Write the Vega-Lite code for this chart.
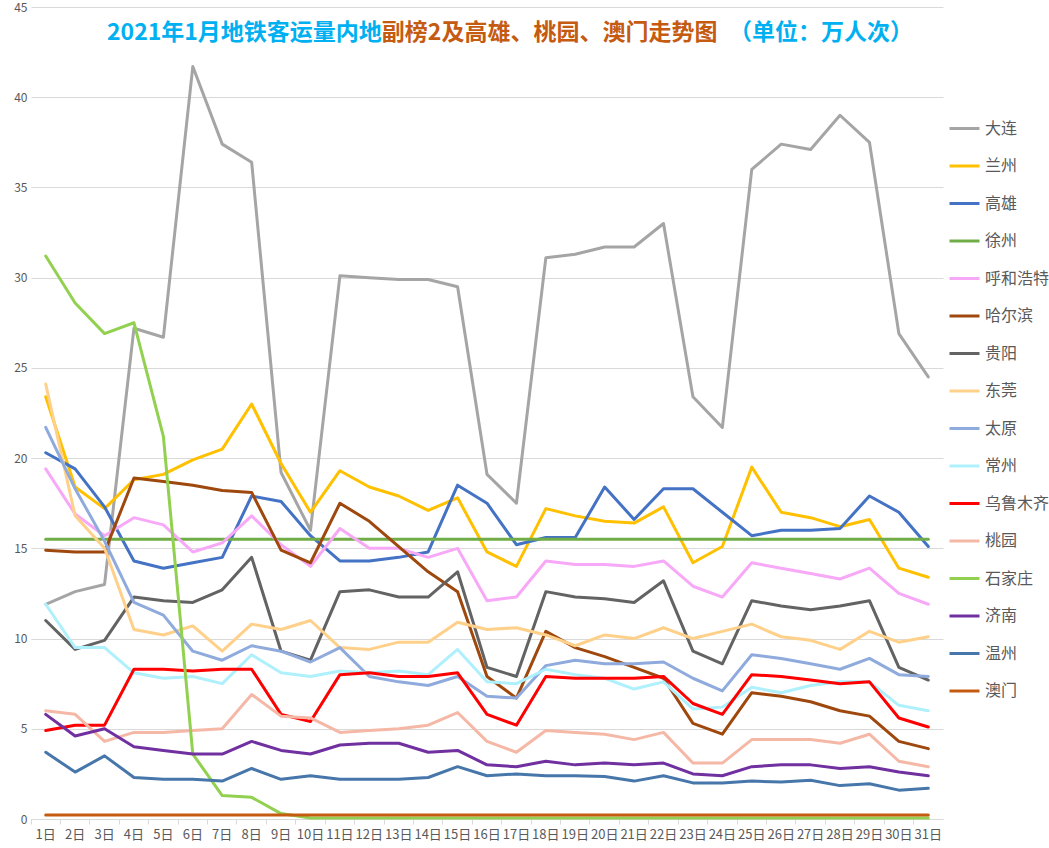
{
"$schema": "https://vega.github.io/schema/vega-lite/v6.json",
"width": 912, "height": 812,
"autosize": {"type": "none"},
"padding": {"left": 31, "top": 7, "right": 106, "bottom": 29},
"background": "white",
"config": {"view": {"stroke": null}, "font": "Noto Sans CJK SC"},
"title": {
  "text": "2021年1月地铁客运量内地\u3000\u3000\u2007\u3000\u3000\u3000\u3000\u3000\u3000\u3000\u3000\u3000\u3000\u3000\u3000\u2002（单位：万人次）",
  "subtitle": "\u200B\u2007\u2007\u2007\u2007\u3000\u2007\u3000\u3000\u3000\u3000\u3000\u3000\u3000\u3000副榜2及高雄、桃园、澳门走势图",
  "anchor": "start", "frame": "group", "dx": 76, "offset": -44,
  "font": "Noto Sans CJK SC", "subtitleFont": "Noto Sans CJK SC",
  "fontSize": 23, "subtitleFontSize": 23,
  "fontWeight": "bold", "subtitleFontWeight": "bold",
  "color": "#00B0F0", "subtitleColor": "#C55A11",
  "subtitlePadding": -23
},
"datasets": {"t": [
{"c":"大连","d":1,"v":11.9},{"c":"大连","d":2,"v":12.6},{"c":"大连","d":3,"v":13.0},{"c":"大连","d":4,"v":27.2},{"c":"大连","d":5,"v":26.7},{"c":"大连","d":6,"v":41.7},{"c":"大连","d":7,"v":37.4},{"c":"大连","d":8,"v":36.4},{"c":"大连","d":9,"v":19.2},{"c":"大连","d":10,"v":16.0},{"c":"大连","d":11,"v":30.1},{"c":"大连","d":12,"v":30.0},{"c":"大连","d":13,"v":29.9},{"c":"大连","d":14,"v":29.9},{"c":"大连","d":15,"v":29.5},{"c":"大连","d":16,"v":19.1},{"c":"大连","d":17,"v":17.5},{"c":"大连","d":18,"v":31.1},{"c":"大连","d":19,"v":31.3},{"c":"大连","d":20,"v":31.7},{"c":"大连","d":21,"v":31.7},{"c":"大连","d":22,"v":33.0},{"c":"大连","d":23,"v":23.4},{"c":"大连","d":24,"v":21.7},{"c":"大连","d":25,"v":36.0},{"c":"大连","d":26,"v":37.4},{"c":"大连","d":27,"v":37.1},{"c":"大连","d":28,"v":39.0},{"c":"大连","d":29,"v":37.5},{"c":"大连","d":30,"v":26.9},{"c":"大连","d":31,"v":24.5},
{"c":"兰州","d":1,"v":23.4},{"c":"兰州","d":2,"v":18.4},{"c":"兰州","d":3,"v":17.2},{"c":"兰州","d":4,"v":18.8},{"c":"兰州","d":5,"v":19.1},{"c":"兰州","d":6,"v":19.9},{"c":"兰州","d":7,"v":20.5},{"c":"兰州","d":8,"v":23.0},{"c":"兰州","d":9,"v":19.7},{"c":"兰州","d":10,"v":17.0},{"c":"兰州","d":11,"v":19.3},{"c":"兰州","d":12,"v":18.4},{"c":"兰州","d":13,"v":17.9},{"c":"兰州","d":14,"v":17.1},{"c":"兰州","d":15,"v":17.8},{"c":"兰州","d":16,"v":14.8},{"c":"兰州","d":17,"v":14.0},{"c":"兰州","d":18,"v":17.2},{"c":"兰州","d":19,"v":16.8},{"c":"兰州","d":20,"v":16.5},{"c":"兰州","d":21,"v":16.4},{"c":"兰州","d":22,"v":17.3},{"c":"兰州","d":23,"v":14.2},{"c":"兰州","d":24,"v":15.1},{"c":"兰州","d":25,"v":19.5},{"c":"兰州","d":26,"v":17.0},{"c":"兰州","d":27,"v":16.7},{"c":"兰州","d":28,"v":16.2},{"c":"兰州","d":29,"v":16.6},{"c":"兰州","d":30,"v":13.9},{"c":"兰州","d":31,"v":13.4},
{"c":"高雄","d":1,"v":20.3},{"c":"高雄","d":2,"v":19.4},{"c":"高雄","d":3,"v":17.3},{"c":"高雄","d":4,"v":14.3},{"c":"高雄","d":5,"v":13.9},{"c":"高雄","d":6,"v":14.2},{"c":"高雄","d":7,"v":14.5},{"c":"高雄","d":8,"v":17.9},{"c":"高雄","d":9,"v":17.6},{"c":"高雄","d":10,"v":15.7},{"c":"高雄","d":11,"v":14.3},{"c":"高雄","d":12,"v":14.3},{"c":"高雄","d":13,"v":14.5},{"c":"高雄","d":14,"v":14.8},{"c":"高雄","d":15,"v":18.5},{"c":"高雄","d":16,"v":17.5},{"c":"高雄","d":17,"v":15.2},{"c":"高雄","d":18,"v":15.6},{"c":"高雄","d":19,"v":15.6},{"c":"高雄","d":20,"v":18.4},{"c":"高雄","d":21,"v":16.6},{"c":"高雄","d":22,"v":18.3},{"c":"高雄","d":23,"v":18.3},{"c":"高雄","d":24,"v":17.0},{"c":"高雄","d":25,"v":15.7},{"c":"高雄","d":26,"v":16.0},{"c":"高雄","d":27,"v":16.0},{"c":"高雄","d":28,"v":16.1},{"c":"高雄","d":29,"v":17.9},{"c":"高雄","d":30,"v":17.0},{"c":"高雄","d":31,"v":15.1},
{"c":"徐州","d":1,"v":15.5},{"c":"徐州","d":2,"v":15.5},{"c":"徐州","d":3,"v":15.5},{"c":"徐州","d":4,"v":15.5},{"c":"徐州","d":5,"v":15.5},{"c":"徐州","d":6,"v":15.5},{"c":"徐州","d":7,"v":15.5},{"c":"徐州","d":8,"v":15.5},{"c":"徐州","d":9,"v":15.5},{"c":"徐州","d":10,"v":15.5},{"c":"徐州","d":11,"v":15.5},{"c":"徐州","d":12,"v":15.5},{"c":"徐州","d":13,"v":15.5},{"c":"徐州","d":14,"v":15.5},{"c":"徐州","d":15,"v":15.5},{"c":"徐州","d":16,"v":15.5},{"c":"徐州","d":17,"v":15.5},{"c":"徐州","d":18,"v":15.5},{"c":"徐州","d":19,"v":15.5},{"c":"徐州","d":20,"v":15.5},{"c":"徐州","d":21,"v":15.5},{"c":"徐州","d":22,"v":15.5},{"c":"徐州","d":23,"v":15.5},{"c":"徐州","d":24,"v":15.5},{"c":"徐州","d":25,"v":15.5},{"c":"徐州","d":26,"v":15.5},{"c":"徐州","d":27,"v":15.5},{"c":"徐州","d":28,"v":15.5},{"c":"徐州","d":29,"v":15.5},{"c":"徐州","d":30,"v":15.5},{"c":"徐州","d":31,"v":15.5},
{"c":"呼和浩特","d":1,"v":19.4},{"c":"呼和浩特","d":2,"v":16.9},{"c":"呼和浩特","d":3,"v":15.7},{"c":"呼和浩特","d":4,"v":16.7},{"c":"呼和浩特","d":5,"v":16.3},{"c":"呼和浩特","d":6,"v":14.8},{"c":"呼和浩特","d":7,"v":15.3},{"c":"呼和浩特","d":8,"v":16.8},{"c":"呼和浩特","d":9,"v":15.2},{"c":"呼和浩特","d":10,"v":14.0},{"c":"呼和浩特","d":11,"v":16.1},{"c":"呼和浩特","d":12,"v":15.0},{"c":"呼和浩特","d":13,"v":15.0},{"c":"呼和浩特","d":14,"v":14.5},{"c":"呼和浩特","d":15,"v":15.0},{"c":"呼和浩特","d":16,"v":12.1},{"c":"呼和浩特","d":17,"v":12.3},{"c":"呼和浩特","d":18,"v":14.3},{"c":"呼和浩特","d":19,"v":14.1},{"c":"呼和浩特","d":20,"v":14.1},{"c":"呼和浩特","d":21,"v":14.0},{"c":"呼和浩特","d":22,"v":14.3},{"c":"呼和浩特","d":23,"v":12.9},{"c":"呼和浩特","d":24,"v":12.3},{"c":"呼和浩特","d":25,"v":14.2},{"c":"呼和浩特","d":26,"v":13.9},{"c":"呼和浩特","d":27,"v":13.6},{"c":"呼和浩特","d":28,"v":13.3},{"c":"呼和浩特","d":29,"v":13.9},{"c":"呼和浩特","d":30,"v":12.5},{"c":"呼和浩特","d":31,"v":11.9},
{"c":"哈尔滨","d":1,"v":14.9},{"c":"哈尔滨","d":2,"v":14.8},{"c":"哈尔滨","d":3,"v":14.8},{"c":"哈尔滨","d":4,"v":18.9},{"c":"哈尔滨","d":5,"v":18.7},{"c":"哈尔滨","d":6,"v":18.5},{"c":"哈尔滨","d":7,"v":18.2},{"c":"哈尔滨","d":8,"v":18.1},{"c":"哈尔滨","d":9,"v":14.9},{"c":"哈尔滨","d":10,"v":14.2},{"c":"哈尔滨","d":11,"v":17.5},{"c":"哈尔滨","d":12,"v":16.5},{"c":"哈尔滨","d":13,"v":15.1},{"c":"哈尔滨","d":14,"v":13.7},{"c":"哈尔滨","d":15,"v":12.6},{"c":"哈尔滨","d":16,"v":7.9},{"c":"哈尔滨","d":17,"v":6.7},{"c":"哈尔滨","d":18,"v":10.4},{"c":"哈尔滨","d":19,"v":9.5},{"c":"哈尔滨","d":20,"v":9.0},{"c":"哈尔滨","d":21,"v":8.4},{"c":"哈尔滨","d":22,"v":7.8},{"c":"哈尔滨","d":23,"v":5.3},{"c":"哈尔滨","d":24,"v":4.7},{"c":"哈尔滨","d":25,"v":7.0},{"c":"哈尔滨","d":26,"v":6.8},{"c":"哈尔滨","d":27,"v":6.5},{"c":"哈尔滨","d":28,"v":6.0},{"c":"哈尔滨","d":29,"v":5.7},{"c":"哈尔滨","d":30,"v":4.3},{"c":"哈尔滨","d":31,"v":3.9},
{"c":"贵阳","d":1,"v":11.0},{"c":"贵阳","d":2,"v":9.4},{"c":"贵阳","d":3,"v":9.9},{"c":"贵阳","d":4,"v":12.3},{"c":"贵阳","d":5,"v":12.1},{"c":"贵阳","d":6,"v":12.0},{"c":"贵阳","d":7,"v":12.7},{"c":"贵阳","d":8,"v":14.5},{"c":"贵阳","d":9,"v":9.3},{"c":"贵阳","d":10,"v":8.8},{"c":"贵阳","d":11,"v":12.6},{"c":"贵阳","d":12,"v":12.7},{"c":"贵阳","d":13,"v":12.3},{"c":"贵阳","d":14,"v":12.3},{"c":"贵阳","d":15,"v":13.7},{"c":"贵阳","d":16,"v":8.4},{"c":"贵阳","d":17,"v":7.9},{"c":"贵阳","d":18,"v":12.6},{"c":"贵阳","d":19,"v":12.3},{"c":"贵阳","d":20,"v":12.2},{"c":"贵阳","d":21,"v":12.0},{"c":"贵阳","d":22,"v":13.2},{"c":"贵阳","d":23,"v":9.3},{"c":"贵阳","d":24,"v":8.6},{"c":"贵阳","d":25,"v":12.1},{"c":"贵阳","d":26,"v":11.8},{"c":"贵阳","d":27,"v":11.6},{"c":"贵阳","d":28,"v":11.8},{"c":"贵阳","d":29,"v":12.1},{"c":"贵阳","d":30,"v":8.4},{"c":"贵阳","d":31,"v":7.7},
{"c":"东莞","d":1,"v":24.1},{"c":"东莞","d":2,"v":16.8},{"c":"东莞","d":3,"v":15.0},{"c":"东莞","d":4,"v":10.5},{"c":"东莞","d":5,"v":10.2},{"c":"东莞","d":6,"v":10.7},{"c":"东莞","d":7,"v":9.3},{"c":"东莞","d":8,"v":10.8},{"c":"东莞","d":9,"v":10.5},{"c":"东莞","d":10,"v":11.0},{"c":"东莞","d":11,"v":9.5},{"c":"东莞","d":12,"v":9.4},{"c":"东莞","d":13,"v":9.8},{"c":"东莞","d":14,"v":9.8},{"c":"东莞","d":15,"v":10.9},{"c":"东莞","d":16,"v":10.5},{"c":"东莞","d":17,"v":10.6},{"c":"东莞","d":18,"v":10.2},{"c":"东莞","d":19,"v":9.6},{"c":"东莞","d":20,"v":10.2},{"c":"东莞","d":21,"v":10.0},{"c":"东莞","d":22,"v":10.6},{"c":"东莞","d":23,"v":10.0},{"c":"东莞","d":24,"v":10.4},{"c":"东莞","d":25,"v":10.8},{"c":"东莞","d":26,"v":10.1},{"c":"东莞","d":27,"v":9.9},{"c":"东莞","d":28,"v":9.4},{"c":"东莞","d":29,"v":10.4},{"c":"东莞","d":30,"v":9.8},{"c":"东莞","d":31,"v":10.1},
{"c":"太原","d":1,"v":21.7},{"c":"太原","d":2,"v":18.3},{"c":"太原","d":3,"v":15.4},{"c":"太原","d":4,"v":12.0},{"c":"太原","d":5,"v":11.3},{"c":"太原","d":6,"v":9.3},{"c":"太原","d":7,"v":8.8},{"c":"太原","d":8,"v":9.6},{"c":"太原","d":9,"v":9.3},{"c":"太原","d":10,"v":8.7},{"c":"太原","d":11,"v":9.5},{"c":"太原","d":12,"v":7.9},{"c":"太原","d":13,"v":7.6},{"c":"太原","d":14,"v":7.4},{"c":"太原","d":15,"v":7.9},{"c":"太原","d":16,"v":6.8},{"c":"太原","d":17,"v":6.7},{"c":"太原","d":18,"v":8.5},{"c":"太原","d":19,"v":8.8},{"c":"太原","d":20,"v":8.6},{"c":"太原","d":21,"v":8.6},{"c":"太原","d":22,"v":8.7},{"c":"太原","d":23,"v":7.8},{"c":"太原","d":24,"v":7.1},{"c":"太原","d":25,"v":9.1},{"c":"太原","d":26,"v":8.9},{"c":"太原","d":27,"v":8.6},{"c":"太原","d":28,"v":8.3},{"c":"太原","d":29,"v":8.9},{"c":"太原","d":30,"v":8.0},{"c":"太原","d":31,"v":7.9},
{"c":"常州","d":1,"v":11.9},{"c":"常州","d":2,"v":9.5},{"c":"常州","d":3,"v":9.5},{"c":"常州","d":4,"v":8.1},{"c":"常州","d":5,"v":7.8},{"c":"常州","d":6,"v":7.9},{"c":"常州","d":7,"v":7.5},{"c":"常州","d":8,"v":9.1},{"c":"常州","d":9,"v":8.1},{"c":"常州","d":10,"v":7.9},{"c":"常州","d":11,"v":8.2},{"c":"常州","d":12,"v":8.1},{"c":"常州","d":13,"v":8.2},{"c":"常州","d":14,"v":8.0},{"c":"常州","d":15,"v":9.4},{"c":"常州","d":16,"v":7.6},{"c":"常州","d":17,"v":7.5},{"c":"常州","d":18,"v":8.3},{"c":"常州","d":19,"v":8.0},{"c":"常州","d":20,"v":7.8},{"c":"常州","d":21,"v":7.2},{"c":"常州","d":22,"v":7.6},{"c":"常州","d":23,"v":6.1},{"c":"常州","d":24,"v":6.2},{"c":"常州","d":25,"v":7.3},{"c":"常州","d":26,"v":7.0},{"c":"常州","d":27,"v":7.4},{"c":"常州","d":28,"v":7.6},{"c":"常州","d":29,"v":7.6},{"c":"常州","d":30,"v":6.3},{"c":"常州","d":31,"v":6.0},
{"c":"乌鲁木齐","d":1,"v":4.9},{"c":"乌鲁木齐","d":2,"v":5.2},{"c":"乌鲁木齐","d":3,"v":5.2},{"c":"乌鲁木齐","d":4,"v":8.3},{"c":"乌鲁木齐","d":5,"v":8.3},{"c":"乌鲁木齐","d":6,"v":8.2},{"c":"乌鲁木齐","d":7,"v":8.3},{"c":"乌鲁木齐","d":8,"v":8.3},{"c":"乌鲁木齐","d":9,"v":5.8},{"c":"乌鲁木齐","d":10,"v":5.4},{"c":"乌鲁木齐","d":11,"v":8.0},{"c":"乌鲁木齐","d":12,"v":8.1},{"c":"乌鲁木齐","d":13,"v":7.9},{"c":"乌鲁木齐","d":14,"v":7.9},{"c":"乌鲁木齐","d":15,"v":8.1},{"c":"乌鲁木齐","d":16,"v":5.8},{"c":"乌鲁木齐","d":17,"v":5.2},{"c":"乌鲁木齐","d":18,"v":7.9},{"c":"乌鲁木齐","d":19,"v":7.8},{"c":"乌鲁木齐","d":20,"v":7.8},{"c":"乌鲁木齐","d":21,"v":7.8},{"c":"乌鲁木齐","d":22,"v":7.9},{"c":"乌鲁木齐","d":23,"v":6.4},{"c":"乌鲁木齐","d":24,"v":5.8},{"c":"乌鲁木齐","d":25,"v":8.0},{"c":"乌鲁木齐","d":26,"v":7.9},{"c":"乌鲁木齐","d":27,"v":7.7},{"c":"乌鲁木齐","d":28,"v":7.5},{"c":"乌鲁木齐","d":29,"v":7.6},{"c":"乌鲁木齐","d":30,"v":5.6},{"c":"乌鲁木齐","d":31,"v":5.1},
{"c":"桃园","d":1,"v":6.0},{"c":"桃园","d":2,"v":5.8},{"c":"桃园","d":3,"v":4.3},{"c":"桃园","d":4,"v":4.8},{"c":"桃园","d":5,"v":4.8},{"c":"桃园","d":6,"v":4.9},{"c":"桃园","d":7,"v":5.0},{"c":"桃园","d":8,"v":6.9},{"c":"桃园","d":9,"v":5.7},{"c":"桃园","d":10,"v":5.6},{"c":"桃园","d":11,"v":4.8},{"c":"桃园","d":12,"v":4.9},{"c":"桃园","d":13,"v":5.0},{"c":"桃园","d":14,"v":5.2},{"c":"桃园","d":15,"v":5.9},{"c":"桃园","d":16,"v":4.3},{"c":"桃园","d":17,"v":3.7},{"c":"桃园","d":18,"v":4.9},{"c":"桃园","d":19,"v":4.8},{"c":"桃园","d":20,"v":4.7},{"c":"桃园","d":21,"v":4.4},{"c":"桃园","d":22,"v":4.8},{"c":"桃园","d":23,"v":3.1},{"c":"桃园","d":24,"v":3.1},{"c":"桃园","d":25,"v":4.4},{"c":"桃园","d":26,"v":4.4},{"c":"桃园","d":27,"v":4.4},{"c":"桃园","d":28,"v":4.2},{"c":"桃园","d":29,"v":4.7},{"c":"桃园","d":30,"v":3.2},{"c":"桃园","d":31,"v":2.9},
{"c":"石家庄","d":1,"v":31.2},{"c":"石家庄","d":2,"v":28.6},{"c":"石家庄","d":3,"v":26.9},{"c":"石家庄","d":4,"v":27.5},{"c":"石家庄","d":5,"v":21.2},{"c":"石家庄","d":6,"v":3.6},{"c":"石家庄","d":7,"v":1.3},{"c":"石家庄","d":8,"v":1.2},{"c":"石家庄","d":9,"v":0.3},{"c":"石家庄","d":10,"v":0.05},{"c":"石家庄","d":11,"v":0.05},{"c":"石家庄","d":12,"v":0.05},{"c":"石家庄","d":13,"v":0.05},{"c":"石家庄","d":14,"v":0.05},{"c":"石家庄","d":15,"v":0.05},{"c":"石家庄","d":16,"v":0.05},{"c":"石家庄","d":17,"v":0.05},{"c":"石家庄","d":18,"v":0.05},{"c":"石家庄","d":19,"v":0.05},{"c":"石家庄","d":20,"v":0.05},{"c":"石家庄","d":21,"v":0.05},{"c":"石家庄","d":22,"v":0.05},{"c":"石家庄","d":23,"v":0.05},{"c":"石家庄","d":24,"v":0.05},{"c":"石家庄","d":25,"v":0.05},{"c":"石家庄","d":26,"v":0.05},{"c":"石家庄","d":27,"v":0.05},{"c":"石家庄","d":28,"v":0.05},{"c":"石家庄","d":29,"v":0.05},{"c":"石家庄","d":30,"v":0.05},{"c":"石家庄","d":31,"v":0.05},
{"c":"济南","d":1,"v":5.8},{"c":"济南","d":2,"v":4.6},{"c":"济南","d":3,"v":5.0},{"c":"济南","d":4,"v":4.0},{"c":"济南","d":5,"v":3.8},{"c":"济南","d":6,"v":3.6},{"c":"济南","d":7,"v":3.6},{"c":"济南","d":8,"v":4.3},{"c":"济南","d":9,"v":3.8},{"c":"济南","d":10,"v":3.6},{"c":"济南","d":11,"v":4.1},{"c":"济南","d":12,"v":4.2},{"c":"济南","d":13,"v":4.2},{"c":"济南","d":14,"v":3.7},{"c":"济南","d":15,"v":3.8},{"c":"济南","d":16,"v":3.0},{"c":"济南","d":17,"v":2.9},{"c":"济南","d":18,"v":3.2},{"c":"济南","d":19,"v":3.0},{"c":"济南","d":20,"v":3.1},{"c":"济南","d":21,"v":3.0},{"c":"济南","d":22,"v":3.1},{"c":"济南","d":23,"v":2.5},{"c":"济南","d":24,"v":2.4},{"c":"济南","d":25,"v":2.9},{"c":"济南","d":26,"v":3.0},{"c":"济南","d":27,"v":3.0},{"c":"济南","d":28,"v":2.8},{"c":"济南","d":29,"v":2.9},{"c":"济南","d":30,"v":2.6},{"c":"济南","d":31,"v":2.4},
{"c":"温州","d":1,"v":3.7},{"c":"温州","d":2,"v":2.6},{"c":"温州","d":3,"v":3.5},{"c":"温州","d":4,"v":2.3},{"c":"温州","d":5,"v":2.2},{"c":"温州","d":6,"v":2.2},{"c":"温州","d":7,"v":2.1},{"c":"温州","d":8,"v":2.8},{"c":"温州","d":9,"v":2.2},{"c":"温州","d":10,"v":2.4},{"c":"温州","d":11,"v":2.2},{"c":"温州","d":12,"v":2.2},{"c":"温州","d":13,"v":2.2},{"c":"温州","d":14,"v":2.3},{"c":"温州","d":15,"v":2.9},{"c":"温州","d":16,"v":2.4},{"c":"温州","d":17,"v":2.5},{"c":"温州","d":18,"v":2.4},{"c":"温州","d":19,"v":2.4},{"c":"温州","d":20,"v":2.35},{"c":"温州","d":21,"v":2.1},{"c":"温州","d":22,"v":2.4},{"c":"温州","d":23,"v":2.0},{"c":"温州","d":24,"v":2.0},{"c":"温州","d":25,"v":2.1},{"c":"温州","d":26,"v":2.05},{"c":"温州","d":27,"v":2.15},{"c":"温州","d":28,"v":1.85},{"c":"温州","d":29,"v":1.95},{"c":"温州","d":30,"v":1.6},{"c":"温州","d":31,"v":1.7},
{"c":"澳门","d":1,"v":0.22},{"c":"澳门","d":2,"v":0.22},{"c":"澳门","d":3,"v":0.22},{"c":"澳门","d":4,"v":0.22},{"c":"澳门","d":5,"v":0.22},{"c":"澳门","d":6,"v":0.22},{"c":"澳门","d":7,"v":0.22},{"c":"澳门","d":8,"v":0.22},{"c":"澳门","d":9,"v":0.22},{"c":"澳门","d":10,"v":0.22},{"c":"澳门","d":11,"v":0.22},{"c":"澳门","d":12,"v":0.22},{"c":"澳门","d":13,"v":0.22},{"c":"澳门","d":14,"v":0.22},{"c":"澳门","d":15,"v":0.22},{"c":"澳门","d":16,"v":0.22},{"c":"澳门","d":17,"v":0.22},{"c":"澳门","d":18,"v":0.22},{"c":"澳门","d":19,"v":0.22},{"c":"澳门","d":20,"v":0.22},{"c":"澳门","d":21,"v":0.22},{"c":"澳门","d":22,"v":0.22},{"c":"澳门","d":23,"v":0.22},{"c":"澳门","d":24,"v":0.22},{"c":"澳门","d":25,"v":0.22},{"c":"澳门","d":26,"v":0.22},{"c":"澳门","d":27,"v":0.22},{"c":"澳门","d":28,"v":0.22},{"c":"澳门","d":29,"v":0.22},{"c":"澳门","d":30,"v":0.22},{"c":"澳门","d":31,"v":0.22}
]},
"data": {"name": "t"},
"mark": {"type": "line", "strokeWidth": 3, "strokeJoin": "round", "strokeCap": "round"},
"encoding": {
  "x": {"field": "d", "type": "ordinal",
    "scale": {"type": "band", "paddingInner": 0, "paddingOuter": 0},
    "axis": {"title": null, "labelExpr": "datum.label + '日'", "labelAngle": 0, "bandPosition": 0,
      "tickColor": "#D9D9D9", "domainColor": "#D9D9D9", "tickSize": 5, "labelColor": "#595959",
      "labelFontSize": 13, "labelPadding": 4, "grid": false, "labelFont": "Noto Sans CJK SC"}},
  "y": {"field": "v", "type": "quantitative",
    "scale": {"domain": [0, 45], "nice": false},
    "axis": {"title": null, "values": [0, 5, 10, 15, 20, 25, 30, 35, 40, 45], "domain": false, "ticks": false,
      "gridColor": "#D9D9D9", "labelColor": "#595959", "labelFontSize": 12, "labelPadding": 4, "labelFont": "Noto Sans CJK SC"}},
  "color": {"field": "c", "type": "nominal",
    "scale": {"domain": ["大连","兰州","高雄","徐州","呼和浩特","哈尔滨","贵阳","东莞","太原","常州","乌鲁木齐","桃园","石家庄","济南","温州","澳门"],
      "range": ["#A5A5A5","#FFC000","#4472C4","#70AD47","#F7A8F7","#9E480E","#636363","#FFD08A","#8FAADC","#AEF0FC","#FF0000","#F5B8A6","#92D050","#7030A0","#4777AA","#C55A11"]},
    "legend": {"orient": "none", "legendX": 917, "legendY": 105, "title": null, "symbolType": "stroke",
      "symbolSize": 900, "symbolStrokeWidth": 3, "labelFontSize": 16, "labelColor": "#595959",
      "labelOffset": 4, "rowPadding": 12.5, "padding": 0, "labelFont": "Noto Sans CJK SC"}}
}
}
